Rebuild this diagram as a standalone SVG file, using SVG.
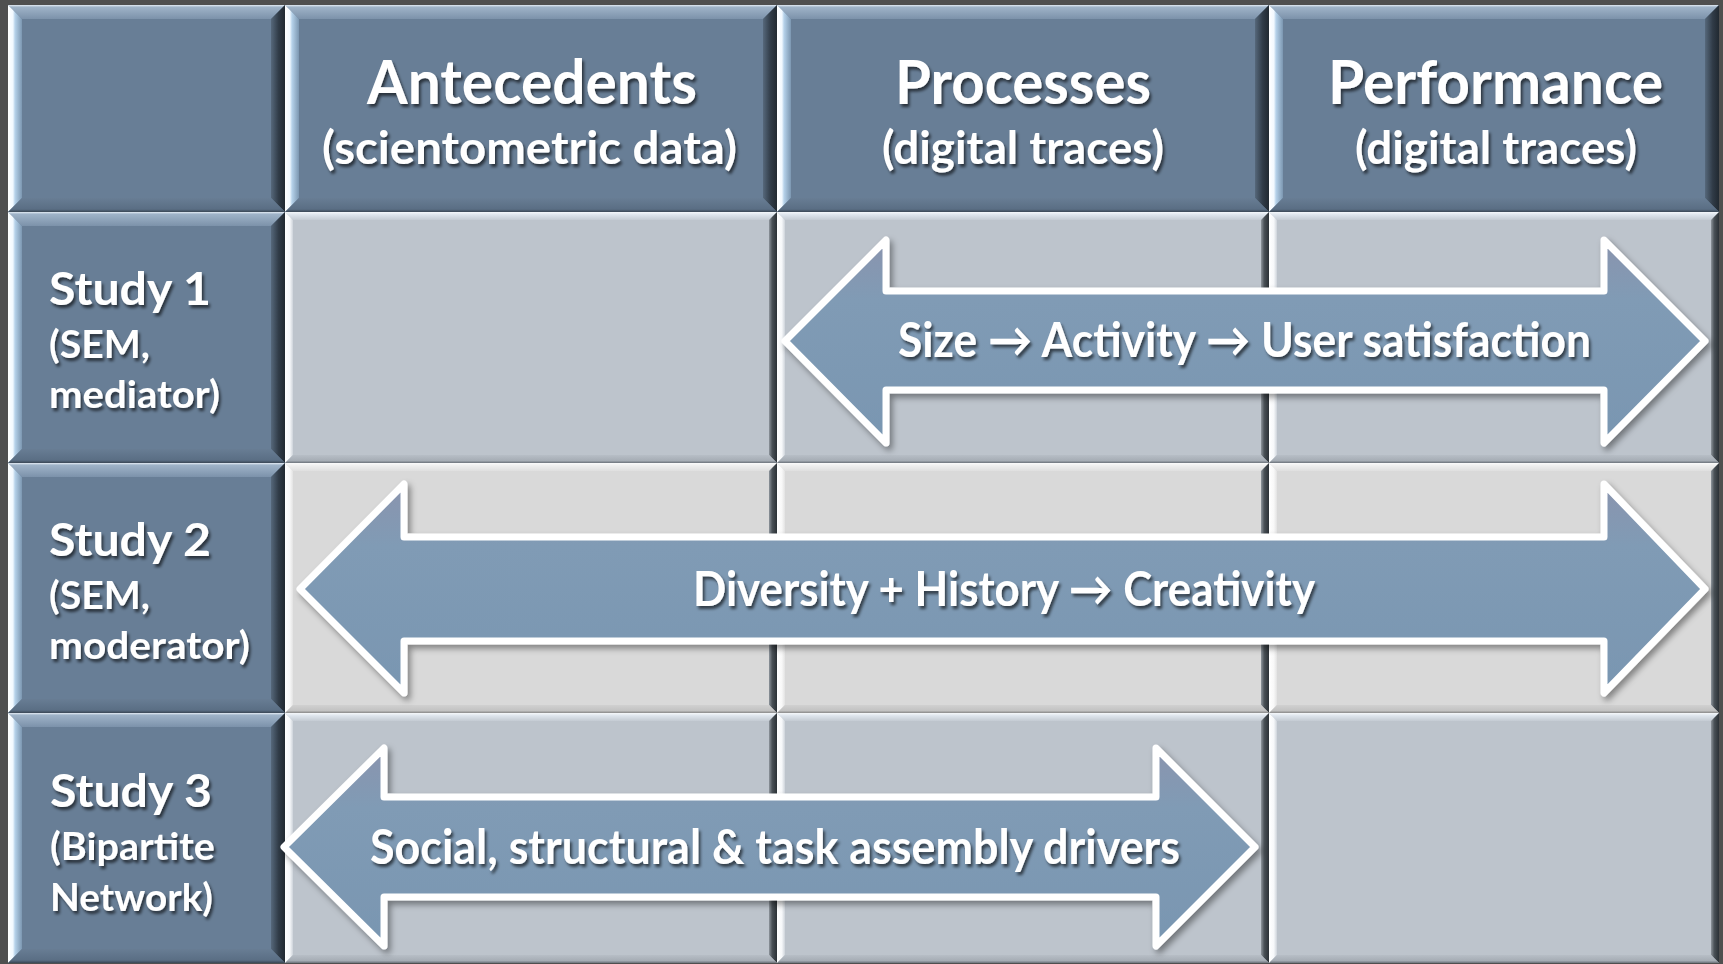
<svg xmlns="http://www.w3.org/2000/svg" width="1723" height="964" viewBox="0 0 1723 964">
<style>
.bb{fill:#687e96}.bt{fill:url(#bTop)}.bl{fill:url(#bLeft)}.br{fill:url(#bRight)}.bo{fill:url(#bBot)}
.lb{fill:#bdc4cc}.lt{fill:url(#lTop)}.ll{fill:url(#lLeft)}.lr{fill:url(#lRight)}.lo{fill:url(#lBot)}
.gb{fill:#d9d9d9}.gt{fill:url(#gTop)}.gl{fill:url(#gLeft)}.gr{fill:url(#lRight)}.go{fill:url(#gBot)}
.arrow{fill:url(#arrFill);stroke:#fff;stroke-width:7;stroke-linejoin:round;filter:url(#arrShadow)}
.t{font-family:Lato,'Open Sans','Noto Sans',sans-serif;font-weight:700;fill:#fff;filter:url(#txtShadow)}
.title{font-size:61px}.sub{font-size:46px}.study{font-size:46px}.meth{font-size:38px}.alab{font-size:48px}
</style>
<defs>
<linearGradient id="bTop" x1="0" y1="0" x2="0" y2="1"><stop offset="0" stop-color="#e4ecf4"/><stop offset="0.15" stop-color="#9fb3c8"/><stop offset="1" stop-color="#7c92aa"/></linearGradient>
<linearGradient id="bLeft" x1="0" y1="0" x2="1" y2="0"><stop offset="0" stop-color="#ffffff"/><stop offset="0.35" stop-color="#f2f9ff"/><stop offset="0.5" stop-color="#b6d2ea"/><stop offset="1" stop-color="#7c97b1"/></linearGradient>
<linearGradient id="bRight" x1="0" y1="0" x2="1" y2="0"><stop offset="0" stop-color="#56687b"/><stop offset="0.55" stop-color="#303b47"/><stop offset="1" stop-color="#212931"/></linearGradient>
<linearGradient id="bBot" x1="0" y1="0" x2="0" y2="1"><stop offset="0" stop-color="#687d94"/><stop offset="0.8" stop-color="#5a6e84"/><stop offset="1" stop-color="#3a4755"/></linearGradient>
<linearGradient id="lTop" x1="0" y1="0" x2="0" y2="1"><stop offset="0" stop-color="#f5f8fb"/><stop offset="0.35" stop-color="#dde4ec"/><stop offset="1" stop-color="#c4cbd3"/></linearGradient>
<linearGradient id="lLeft" x1="0" y1="0" x2="1" y2="0"><stop offset="0" stop-color="#ffffff"/><stop offset="0.6" stop-color="#f6f8fa"/><stop offset="1" stop-color="#cdd3da"/></linearGradient>
<linearGradient id="lRight" x1="0" y1="0" x2="1" y2="0"><stop offset="0" stop-color="#8e959c"/><stop offset="0.4" stop-color="#4a5157"/><stop offset="1" stop-color="#2b3136"/></linearGradient>
<linearGradient id="lBot" x1="0" y1="0" x2="0" y2="1"><stop offset="0" stop-color="#b7bec6"/><stop offset="0.7" stop-color="#a6adb5"/><stop offset="1" stop-color="#6b727a"/></linearGradient>
<linearGradient id="gTop" x1="0" y1="0" x2="0" y2="1"><stop offset="0" stop-color="#fbfbfb"/><stop offset="0.35" stop-color="#eeeeee"/><stop offset="1" stop-color="#dfdfdf"/></linearGradient>
<linearGradient id="gLeft" x1="0" y1="0" x2="1" y2="0"><stop offset="0" stop-color="#ffffff"/><stop offset="0.6" stop-color="#f8f8f8"/><stop offset="1" stop-color="#e2e2e2"/></linearGradient>
<linearGradient id="gBot" x1="0" y1="0" x2="0" y2="1"><stop offset="0" stop-color="#d0d0d0"/><stop offset="0.7" stop-color="#c2c2c2"/><stop offset="1" stop-color="#888888"/></linearGradient>
<linearGradient id="arrFill" x1="0" y1="0" x2="0" y2="1"><stop offset="0" stop-color="#8a94ae"/><stop offset="0.3" stop-color="#809bb5"/><stop offset="1" stop-color="#7996b1"/></linearGradient>
<filter id="arrShadow" x="-5%" y="-15%" width="110%" height="135%"><feDropShadow dx="3" dy="4" stdDeviation="3" flood-color="#000" flood-opacity="0.4"/></filter>
<filter id="txtShadow" x="-5%" y="-20%" width="110%" height="150%"><feDropShadow dx="2" dy="3" stdDeviation="1.8" flood-color="#000" flood-opacity="0.6"/></filter>
</defs>
<rect x="0" y="0" width="1723" height="964" fill="#4f4f4f"/>

<g id="header-corner">
<rect class="bb" x="8" y="5" width="277" height="207"/>
<polygon class="bt" points="8,5 285,5 271,19 22,19"/>
<polygon class="bl" points="8,5 22,19 22,198 8,212"/>
<polygon class="br" points="285,5 285,212 271,198 271,19"/>
<polygon class="bo" points="8,212 285,212 271,198 22,198"/>
</g>
<g id="header-antecedents">
<rect class="bb" x="285" y="5" width="492" height="207"/>
<polygon class="bt" points="285,5 777,5 763,19 299,19"/>
<polygon class="bl" points="285,5 299,19 299,198 285,212"/>
<polygon class="br" points="777,5 777,212 763,198 763,19"/>
<polygon class="bo" points="285,212 777,212 763,198 299,198"/>
<text class="t title" x="367" y="104" textLength="330" lengthAdjust="spacingAndGlyphs">Antecedents</text>
<text class="t sub" x="322" y="164" textLength="415" lengthAdjust="spacingAndGlyphs">(scientometric data)</text>
</g>
<g id="header-processes">
<rect class="bb" x="777" y="5" width="492" height="207"/>
<polygon class="bt" points="777,5 1269,5 1255,19 791,19"/>
<polygon class="bl" points="777,5 791,19 791,198 777,212"/>
<polygon class="br" points="1269,5 1269,212 1255,198 1255,19"/>
<polygon class="bo" points="777,212 1269,212 1255,198 791,198"/>
<text class="t title" x="895" y="104" textLength="256" lengthAdjust="spacingAndGlyphs">Processes</text>
<text class="t sub" x="882" y="164" textLength="282" lengthAdjust="spacingAndGlyphs">(digital traces)</text>
</g>
<g id="header-performance">
<rect class="bb" x="1269" y="5" width="450" height="207"/>
<polygon class="bt" points="1269,5 1719,5 1705,19 1283,19"/>
<polygon class="bl" points="1269,5 1283,19 1283,198 1269,212"/>
<polygon class="br" points="1719,5 1719,212 1705,198 1705,19"/>
<polygon class="bo" points="1269,212 1719,212 1705,198 1283,198"/>
<text class="t title" x="1328" y="104" textLength="335" lengthAdjust="spacingAndGlyphs">Performance</text>
<text class="t sub" x="1355" y="164" textLength="282" lengthAdjust="spacingAndGlyphs">(digital traces)</text>
</g>

<g id="label-study1">
<rect class="bb" x="8" y="212" width="277" height="251"/>
<polygon class="bt" points="8,212 285,212 271,226 22,226"/>
<polygon class="bl" points="8,212 22,226 22,449 8,463"/>
<polygon class="br" points="285,212 285,463 271,449 271,226"/>
<polygon class="bo" points="8,463 285,463 271,449 22,449"/>
<text class="t study" x="49" y="305" textLength="162" lengthAdjust="spacingAndGlyphs">Study 1</text>
<text class="t meth" x="49" y="358" textLength="101" lengthAdjust="spacingAndGlyphs">(SEM,</text>
<text class="t meth" x="49" y="408" textLength="171" lengthAdjust="spacingAndGlyphs">mediator)</text>
</g>
<g id="label-study2">
<rect class="bb" x="8" y="463" width="277" height="250"/>
<polygon class="bt" points="8,463 285,463 271,477 22,477"/>
<polygon class="bl" points="8,463 22,477 22,699 8,713"/>
<polygon class="br" points="285,463 285,713 271,699 271,477"/>
<polygon class="bo" points="8,713 285,713 271,699 22,699"/>
<text class="t study" x="49" y="556" textLength="162" lengthAdjust="spacingAndGlyphs">Study 2</text>
<text class="t meth" x="49" y="609" textLength="101" lengthAdjust="spacingAndGlyphs">(SEM,</text>
<text class="t meth" x="49" y="659" textLength="201" lengthAdjust="spacingAndGlyphs">moderator)</text>
</g>
<g id="label-study3">
<rect class="bb" x="8" y="713" width="277" height="250"/>
<polygon class="bt" points="8,713 285,713 271,727 22,727"/>
<polygon class="bl" points="8,713 22,727 22,949 8,963"/>
<polygon class="br" points="285,713 285,963 271,949 271,727"/>
<polygon class="bo" points="8,963 285,963 271,949 22,949"/>
<text class="t study" x="50" y="807" textLength="162" lengthAdjust="spacingAndGlyphs">Study 3</text>
<text class="t meth" x="50" y="860" textLength="165" lengthAdjust="spacingAndGlyphs">(Bipartite</text>
<text class="t meth" x="50" y="911" textLength="163" lengthAdjust="spacingAndGlyphs">Network)</text>
</g>

<g id="cell-1-antecedents">
<rect class="lb" x="285" y="212" width="492" height="251"/>
<polygon class="lt" points="285,212 777,212 769,220 293,220"/>
<polygon class="ll" points="285,212 293,220 293,455 285,463"/>
<polygon class="lr" points="777,212 777,463 769,455 769,220"/>
<polygon class="lo" points="285,463 777,463 769,455 293,455"/>
</g>
<g id="cell-1-processes">
<rect class="lb" x="777" y="212" width="492" height="251"/>
<polygon class="lt" points="777,212 1269,212 1261,220 785,220"/>
<polygon class="ll" points="777,212 785,220 785,455 777,463"/>
<polygon class="lr" points="1269,212 1269,463 1261,455 1261,220"/>
<polygon class="lo" points="777,463 1269,463 1261,455 785,455"/>
</g>
<g id="cell-1-performance">
<rect class="lb" x="1269" y="212" width="450" height="251"/>
<polygon class="lt" points="1269,212 1719,212 1711,220 1277,220"/>
<polygon class="ll" points="1269,212 1277,220 1277,455 1269,463"/>
<polygon class="lr" points="1719,212 1719,463 1711,455 1711,220"/>
<polygon class="lo" points="1269,463 1719,463 1711,455 1277,455"/>
</g>

<g id="cell-2-antecedents">
<rect class="gb" x="285" y="463" width="492" height="250"/>
<polygon class="gt" points="285,463 777,463 769,471 293,471"/>
<polygon class="gl" points="285,463 293,471 293,705 285,713"/>
<polygon class="gr" points="777,463 777,713 769,705 769,471"/>
<polygon class="go" points="285,713 777,713 769,705 293,705"/>
</g>
<g id="cell-2-processes">
<rect class="gb" x="777" y="463" width="492" height="250"/>
<polygon class="gt" points="777,463 1269,463 1261,471 785,471"/>
<polygon class="gl" points="777,463 785,471 785,705 777,713"/>
<polygon class="gr" points="1269,463 1269,713 1261,705 1261,471"/>
<polygon class="go" points="777,713 1269,713 1261,705 785,705"/>
</g>
<g id="cell-2-performance">
<rect class="gb" x="1269" y="463" width="450" height="250"/>
<polygon class="gt" points="1269,463 1719,463 1711,471 1277,471"/>
<polygon class="gl" points="1269,463 1277,471 1277,705 1269,713"/>
<polygon class="gr" points="1719,463 1719,713 1711,705 1711,471"/>
<polygon class="go" points="1269,713 1719,713 1711,705 1277,705"/>
</g>

<g id="cell-3-antecedents">
<rect class="lb" x="285" y="713" width="492" height="250"/>
<polygon class="lt" points="285,713 777,713 769,721 293,721"/>
<polygon class="ll" points="285,713 293,721 293,955 285,963"/>
<polygon class="lr" points="777,713 777,963 769,955 769,721"/>
<polygon class="lo" points="285,963 777,963 769,955 293,955"/>
</g>
<g id="cell-3-processes">
<rect class="lb" x="777" y="713" width="492" height="250"/>
<polygon class="lt" points="777,713 1269,713 1261,721 785,721"/>
<polygon class="ll" points="777,713 785,721 785,955 777,963"/>
<polygon class="lr" points="1269,713 1269,963 1261,955 1261,721"/>
<polygon class="lo" points="777,963 1269,963 1261,955 785,955"/>
</g>
<g id="cell-3-performance">
<rect class="lb" x="1269" y="713" width="450" height="250"/>
<polygon class="lt" points="1269,713 1719,713 1711,721 1277,721"/>
<polygon class="ll" points="1269,713 1277,721 1277,955 1269,963"/>
<polygon class="lr" points="1719,713 1719,963 1711,955 1711,721"/>
<polygon class="lo" points="1269,963 1719,963 1711,955 1277,955"/>
</g>

<g id="connectors">
<g id="arrow-study1">
<path class="arrow" d="M785,341 L886,240 L886,291 L1604,291 L1604,240 L1705,341 L1604,443 L1604,390 L886,390 L886,443 Z"/>
<text class="t alab" x="898" y="357" textLength="693" lengthAdjust="spacingAndGlyphs">Size → Activity → User satisfaction</text>
</g>
<g id="arrow-study2">
<path class="arrow" d="M300,589 L404,484 L404,537 L1604,537 L1604,484 L1705,589 L1604,693 L1604,641 L404,641 L404,693 Z"/>
<text class="t alab" x="693" y="606" textLength="622" lengthAdjust="spacingAndGlyphs">Diversity + History → Creativity</text>
</g>
<g id="arrow-study3">
<path class="arrow" d="M284,847 L384,748 L384,797 L1156,797 L1156,748 L1255,847 L1156,946 L1156,897 L384,897 L384,946 Z"/>
<text class="t alab" x="370" y="864" textLength="810" lengthAdjust="spacingAndGlyphs">Social, structural &amp; task assembly drivers</text>
</g>
</g>
</svg>
